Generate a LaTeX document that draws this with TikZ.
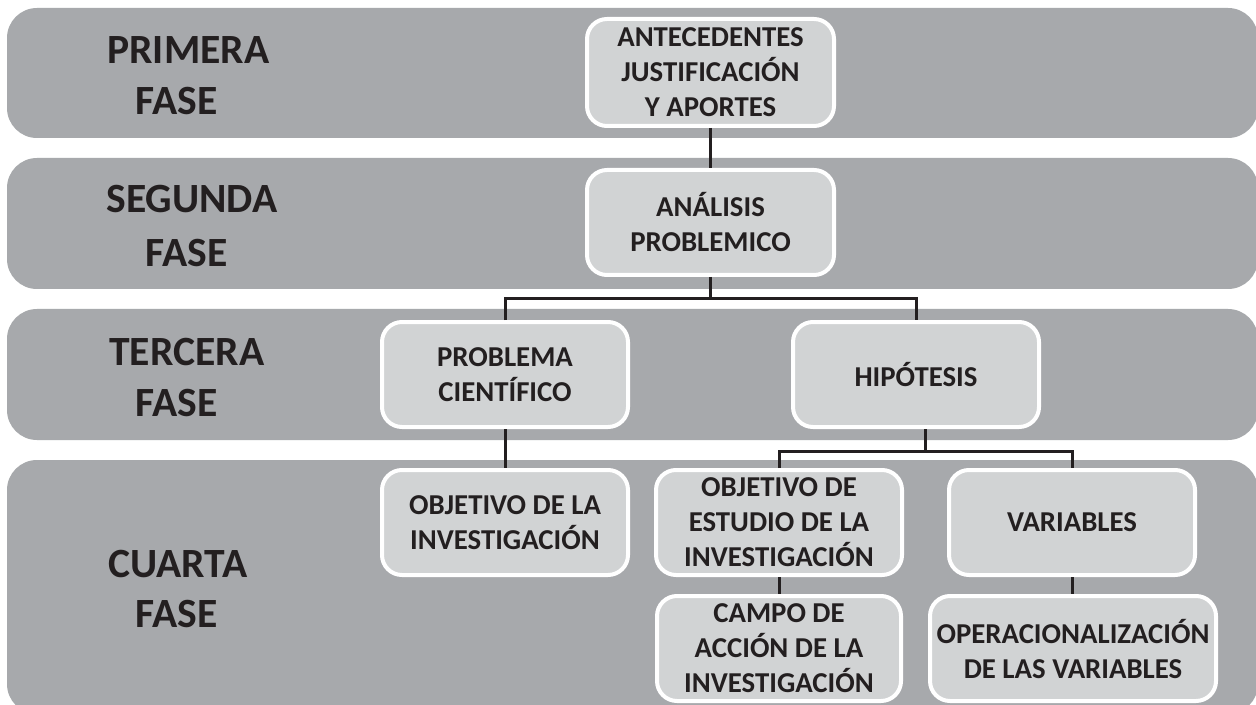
\documentclass[tikz,border=0pt]{standalone}
\usepackage{fontspec}
\setmainfont{Carlito}
\usetikzlibrary{calc}
\definecolor{bandgray}{HTML}{A7A9AC}
\definecolor{boxgray}{HTML}{D1D3D4}
\definecolor{ink}{HTML}{231F20}
\begin{document}
\begin{tikzpicture}[x=0.5pt,y=-0.5pt,
  band/.style={fill=bandgray, draw=none, rounded corners=15pt},
  box/.style={draw=white, line width=2pt, fill=boxgray, rounded corners=10pt, align=center,
    inner sep=0pt, text=ink, font=\fontsize{14.4}{17.5}\selectfont\bfseries,
    minimum height=52.5pt},
  phase/.style={anchor=base west, inner sep=0pt, text=ink, font=\fontsize{20.8}{25}\selectfont\bfseries},
  conn/.style={draw=ink, line width=1.5pt}]
\useasboundingbox (0,0) rectangle (1256,705);
\clip (0,0) rectangle (1256,705);
\fill[white] (0,0) rectangle (1256,705);
% bands
\path[band] (7,8) rectangle (1258,138);
\path[band] (7,158) rectangle (1258,289);
\path[band] (7,309) rectangle (1258,440);
\path[band] (7,460) rectangle (1258,714);
% phase labels
\node[phase] (l1a) at (107,64) {PRIMERA};
\node[phase] (l1b) at (135,115) {FASE};
\node[phase] (l2a) at (106,213) {SEGUNDA};
\node[phase] (l2b) at (145,267) {FASE};
\node[phase] (l3a) at (109,365) {TERCERA};
\node[phase] (l3b) at (135,416) {FASE};
\node[phase] (l4a) at (108,577) {CUARTA};
\node[phase] (l4b) at (135,627) {FASE};
% boxes
\node[box, minimum width=123.5pt, minimum height=53.5pt] (ant) at (710.5,72.5) {ANTECEDENTES\\JUSTIFICACIÓN\\Y APORTES};
\node[box, minimum width=123.5pt] (ana) at (710.5,222.5) {ANÁLISIS\\PROBLEMICO};
\node[box, minimum width=123pt] (prob) at (505,374.5) {PROBLEMA\\CIENTÍFICO};
\node[box, minimum width=123pt] (hip) at (916,374.5) {HIPÓTESIS};
\node[box, minimum width=123pt] (objinv) at (505,522.5) {OBJETIVO DE LA\\INVESTIGACIÓN};
\node[box, minimum width=123pt] (objest) at (779,522.5) {OBJETIVO DE\\ESTUDIO DE LA\\INVESTIGACIÓN};
\node[box, minimum width=123pt] (var) at (1072,522.5) {VARIABLES};
\node[box, minimum width=122pt] (campo) at (779,648.5) {CAMPO DE\\ACCIÓN DE LA\\INVESTIGACIÓN};
\node[box, minimum width=143pt] (oper) at (1073,648.5) {OPERACIONALIZACIÓN\\DE LAS VARIABLES};
% junctions
\coordinate (j1) at (710.5,299);
\coordinate (j2) at (925.5,451);
% connectors
\draw[conn] (ant.south) -- (ana.north);
\draw[conn] (ana.south) -- (j1);
\draw[conn] (prob.north) |- (j1) -| (hip.north);
\draw[conn] (prob.south) -- (objinv.north);
\draw[conn] (hip.south -| j2) -- (j2);
\draw[conn] (objest.north) |- (j2) -| (var.north);
\draw[conn] (objest.south) -- (campo.north);
\draw[conn] (var.south) -- (var.south |- oper.north);
\end{tikzpicture}
\end{document}
